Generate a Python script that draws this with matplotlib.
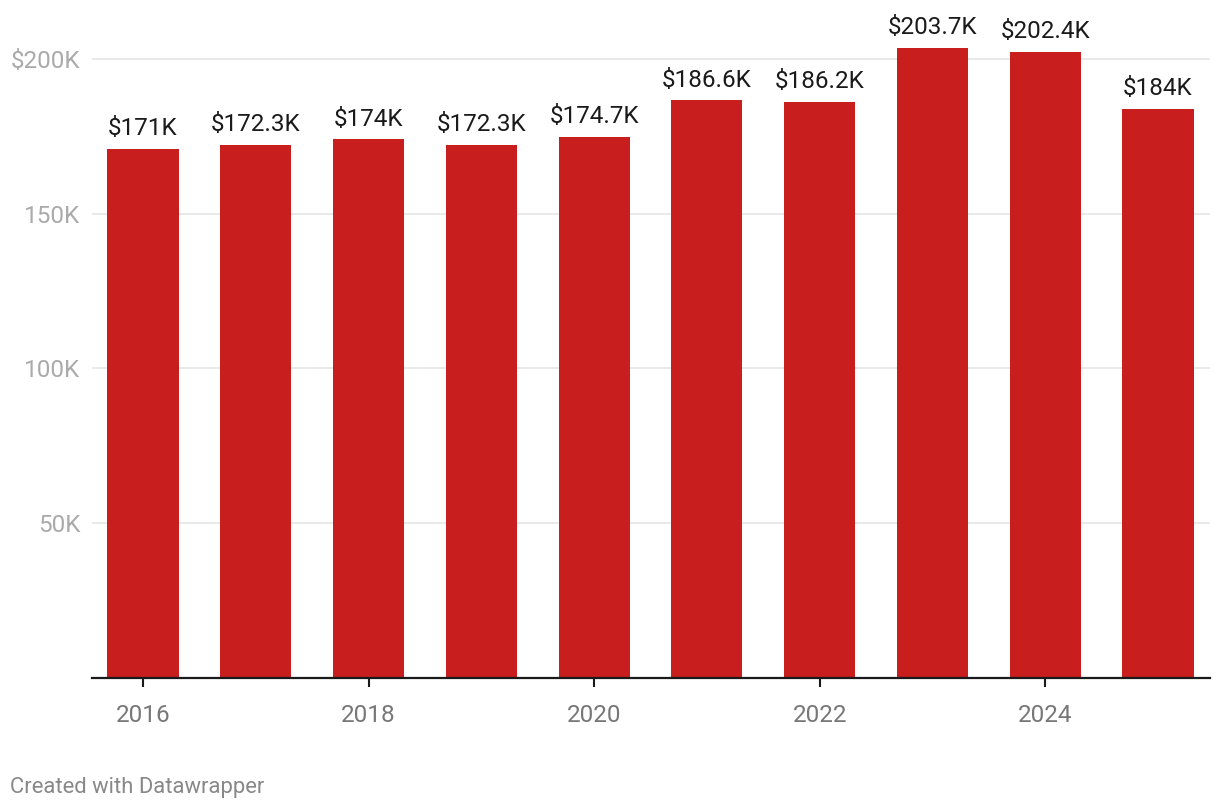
import matplotlib
matplotlib.use("Agg")
import matplotlib.pyplot as plt

years = [2016, 2017, 2018, 2019, 2020, 2021, 2022, 2023, 2024, 2025]
values = [171.0, 172.3, 174.0, 172.3, 174.7, 186.6, 186.2, 203.7, 202.4, 184.0]
labels = ["$171K", "$172.3K", "$174K", "$172.3K", "$174.7K",
          "$186.6K", "$186.2K", "$203.7K", "$202.4K", "$184K"]
ytick_vals = [50, 100, 150, 200]
ytick_labels = ["50K", "100K", "150K", "$200K"]
xtick_vals = [2016, 2018, 2020, 2022, 2024]

plt.rcParams['font.family'] = ['Roboto', 'DejaVu Sans']

W, H = 1220, 810
fig = plt.figure(figsize=(W / 100, H / 100), dpi=100)
left, right, bottom = 92, 1210, 678
ymax = 210
top = bottom - ymax / 50 * 154.75
ax = fig.add_axes([left / W, 1 - bottom / H, (right - left) / W, (bottom - top) / H])

ax.bar(years, values, width=0.63, color="#c81e1e", zorder=2)
for x, v, s in zip(years, values, labels):
    ax.annotate(s, (x, v), xytext=(0, 10), textcoords="offset points",
                ha="center", va="baseline", fontsize=17.5, color="#1a1a1a")

ax.set_xlim(2016 - 0.452, 2025 + 0.461)
ax.set_ylim(0, ymax)

ax.set_yticks(ytick_vals)
ax.set_yticklabels(ytick_labels)
ax.tick_params(axis="y", length=0, pad=8.5, labelsize=17.5, labelcolor="#aaaaaa")
ax.yaxis.grid(True, color="#e3e3e3", linewidth=1.1, zorder=0)

ax.set_xticks(xtick_vals)
ax.set_xticklabels([str(x) for x in xtick_vals])
ax.tick_params(axis="x", length=6.5, width=1.5, color="#1a1a1a", pad=12,
               labelsize=17.5, labelcolor="#777777")

for side in ["top", "right", "left"]:
    ax.spines[side].set_visible(False)
ax.spines["bottom"].set_color("#1a1a1a")
ax.spines["bottom"].set_linewidth(1.6)
ax.spines["bottom"].set_zorder(3)
ax.set_axisbelow(True)

fig.text(10 / W, 1 - 787 / H, "Created with Datawrapper", fontsize=15.8,
         color="#888888", ha="left", va="center")

fig.savefig("out.png", dpi=100)
